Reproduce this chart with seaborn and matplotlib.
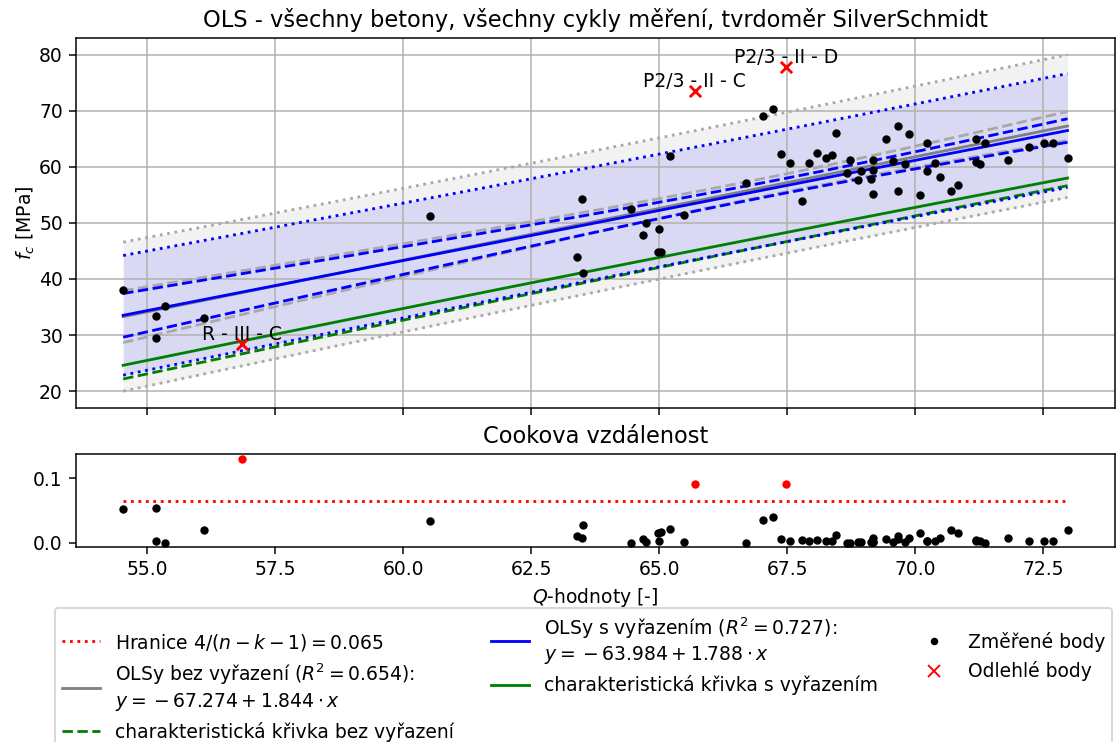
import numpy as np
import pandas as pd
import matplotlib
matplotlib.use("Agg")
import matplotlib.pyplot as plt
import seaborn as sns
from matplotlib.lines import Line2D

# measured points (Q value, f_c) kept after outlier removal
q_vals = [54.53, 55.17, 55.17, 55.34, 56.10, 60.53, 63.48, 63.39, 63.51, 64.45,
          64.74, 64.68, 65.00, 64.97, 65.03, 65.21, 65.48, 66.69, 67.03, 67.22,
          67.37, 67.55, 67.79, 67.92, 68.07, 68.25, 68.37, 68.44, 68.73, 68.66,
          68.88, 68.94, 69.13, 69.17, 69.18, 69.17, 69.43, 69.66, 69.87, 69.57,
          69.66, 69.80, 70.08, 70.23, 70.22, 70.39, 70.47, 70.69, 70.84, 71.18,
          71.35, 71.19, 71.26, 71.80, 72.21, 72.51, 72.69, 72.97]
fc_vals = [38.0, 33.45, 29.4, 35.1, 33.0, 51.2, 54.33, 44.0, 41.05, 52.55,
           49.94, 47.86, 48.93, 44.84, 44.84, 61.98, 51.42, 57.1, 69.03, 70.4,
           62.21, 60.67, 53.9, 60.67, 62.5, 61.62, 62.1, 66.07, 61.15, 58.95,
           57.6, 59.24, 57.8, 59.36, 61.2, 55.1, 65.06, 67.25, 65.9, 61.0,
           55.75, 60.5, 54.9, 64.17, 59.24, 60.74, 58.24, 55.75, 56.8, 65.06,
           64.3, 60.85, 60.43, 61.15, 63.5, 64.3, 64.3, 61.5]
cook_vals = [0.053, 0.003, 0.054, 0.000, 0.019, 0.034, 0.007, 0.011, 0.028, 0.000,
             0.001, 0.005, 0.003, 0.015, 0.016, 0.021, 0.001, 0.000, 0.035, 0.040,
             0.006, 0.003, 0.004, 0.002, 0.004, 0.002, 0.003, 0.012, 0.000, 0.000,
             0.001, 0.001, 0.001, 0.001, 0.001, 0.007, 0.006, 0.011, 0.007, 0.001,
             0.005, 0.001, 0.015, 0.002, 0.002, 0.002, 0.007, 0.019, 0.015, 0.002,
             0.000, 0.004, 0.002, 0.007, 0.003, 0.003, 0.003, 0.019]

# outliers (Cook's distance above the limit)
out_q = [56.85, 65.69, 67.48]
out_fc = [28.4, 73.6, 77.74]
out_cook = [0.131, 0.092, 0.091]
out_names = ["R - III - C", "P2/3 - II - C", "P2/3 - II - D"]

cook_limit = 0.065

# regression results as printed in the legend
b0_all, b1_all, r2_all = -67.274, 1.844, 0.654
b0_red, b1_red, r2_red = -63.984, 1.788, 0.727

# Student t quantiles (df = n - 2)
t975_all, t95_all = 1.999, 1.670
t975_red, t95_red = 2.001, 1.671


def bands(x, y, b0, b1, t2, t1, grid):
    """Confidence / prediction bands and characteristic curve of a line."""
    x = np.asarray(x)
    y = np.asarray(y)
    n = len(x)
    resid = y - (b0 + b1 * x)
    s = np.sqrt(np.sum(resid ** 2) / (n - 2))
    sxx = np.sum((x - x.mean()) ** 2)
    lev = 1.0 / n + (grid - x.mean()) ** 2 / sxx
    fit = b0 + b1 * grid
    return {
        "fit": fit,
        "ci_lo": fit - t2 * s * np.sqrt(lev),
        "ci_hi": fit + t2 * s * np.sqrt(lev),
        "pi_lo": fit - t2 * s * np.sqrt(1 + lev),
        "pi_hi": fit + t2 * s * np.sqrt(1 + lev),
        "char": fit - t1 * s * np.sqrt(1 + lev),
    }


all_q = q_vals + out_q
all_fc = fc_vals + out_fc
grid = np.linspace(min(all_q), max(all_q), 200)

b_all = bands(all_q, all_fc, b0_all, b1_all, t975_all, t95_all, grid)
b_red = bands(q_vals, fc_vals, b0_red, b1_red, t975_red, t95_red, grid)

pts = pd.DataFrame({"q": q_vals, "fc": fc_vals, "cook": cook_vals})
outs = pd.DataFrame({"q": out_q, "fc": out_fc, "cook": out_cook})

DPI = 135
fig, (ax, ax2) = plt.subplots(
    2, 1, sharex=True, figsize=(1117 / DPI, 742 / DPI), dpi=DPI,
    gridspec_kw={"height_ratios": [4, 1]}
)
fig.subplots_adjust(left=0.068, right=0.998, top=0.949, bottom=0.263, hspace=0.2)

# --- top: regressions ---
ax.fill_between(grid, b_all["pi_lo"], b_all["pi_hi"], color="gray", alpha=0.1, lw=0)
ax.fill_between(grid, b_red["pi_lo"], b_red["pi_hi"], color="blue", alpha=0.1, lw=0)

ax.plot(grid, b_all["pi_hi"], ":", color="darkgray")
ax.plot(grid, b_all["pi_lo"], ":", color="darkgray")
ax.plot(grid, b_all["ci_hi"], "--", color="darkgray")
ax.plot(grid, b_all["ci_lo"], "--", color="darkgray")
ax.plot(grid, b_all["fit"], "-", color="gray")
ax.plot(grid, b_all["char"], "--", color="green")

ax.plot(grid, b_red["pi_hi"], ":", color="blue")
ax.plot(grid, b_red["pi_lo"], ":", color="blue")
ax.plot(grid, b_red["ci_hi"], "--", color="blue")
ax.plot(grid, b_red["ci_lo"], "--", color="blue")
ax.plot(grid, b_red["fit"], "-", color="blue")
ax.plot(grid, b_red["char"], "-", color="green")

sns.scatterplot(data=pts, x="q", y="fc", ax=ax, color="black", s=20,
                edgecolor="black", linewidth=0, zorder=3)
sns.scatterplot(data=outs, x="q", y="fc", ax=ax, color="red", marker="x",
                s=36, linewidth=1.5, zorder=3)
for qx, fy, name in zip(out_q, out_fc, out_names):
    ax.text(qx, fy, name, ha="center", va="bottom", fontsize=10)

ax.set_title("OLS - všechny betony, všechny cykly měření, tvrdoměr SilverSchmidt")
ax.set_ylabel("$f_c$ [MPa]", labelpad=1)
ax.set_xlabel("")
ax.grid(True)

# --- bottom: Cook's distance ---
sns.scatterplot(data=pts, x="q", y="cook", ax=ax2, color="black", s=20,
                edgecolor="black", linewidth=0, zorder=3)
sns.scatterplot(data=outs, x="q", y="cook", ax=ax2, color="red", s=20,
                edgecolor="red", linewidth=0, zorder=3)
ax2.hlines(cook_limit, min(all_q), max(all_q), colors="red", linestyles=":")
ax2.set_title("Cookova vzdálenost")
ax2.set_xlabel("$Q$-hodnoty [-]")
ax2.set_ylabel("")

handles = [
    Line2D([], [], color="red", ls=":"),
    Line2D([], [], color="gray", ls="-"),
    Line2D([], [], color="green", ls="--"),
    Line2D([], [], color="blue", ls="-"),
    Line2D([], [], color="green", ls="-"),
    Line2D([], [], color="black", marker=".", ls=""),
    Line2D([], [], color="red", marker="x", ls=""),
]
# "{}" before the minus keeps binary spacing as in the original
labels = [
    rf"Hranice $4/(n-k-1) = {cook_limit}$",
    f"OLSy bez vyřazení ($R^2 = {r2_all}$):\n$y = {{}}{b0_all} + {b1_all} \\cdot x$",
    "charakteristická křivka bez vyřazení",
    f"OLSy s vyřazením ($R^2 = {r2_red}$):\n$y = {{}}{b0_red} + {b1_red} \\cdot x$",
    "charakteristická křivka s vyřazením",
    "Změřené body",
    "Odlehlé body",
]
fig.legend(handles, labels, loc="upper left", bbox_to_anchor=(0.049, 0.181),
           borderaxespad=0, ncol=3)

fig.savefig("out.png", dpi=DPI)
